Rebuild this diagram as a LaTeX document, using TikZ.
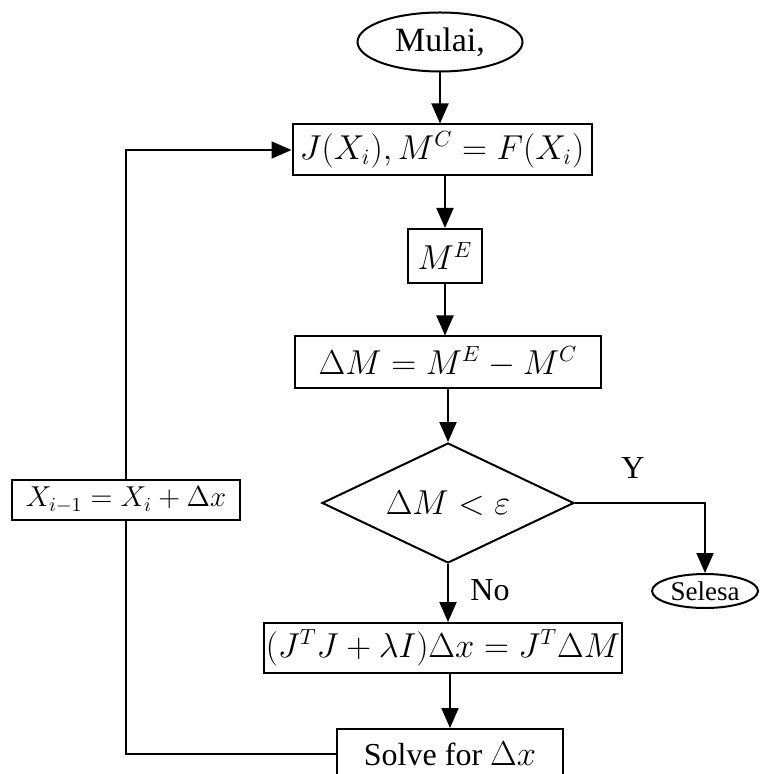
\documentclass[tikz,border=0pt]{standalone}
\usepackage{fontspec}
\setmainfont{Liberation Serif}
\usetikzlibrary{shapes.geometric,arrows.meta}
\tikzset{
  proc/.style={draw,line width=1pt,inner sep=0pt,minimum height=25.5pt},
  term/.style={draw,ellipse,line width=1pt,inner sep=0pt},
  decision/.style={draw,diamond,aspect=2.1,line width=1pt,inner sep=0pt,minimum width=126pt,minimum height=60pt},
  arr/.style={line width=1pt,-{Triangle[width=8.5pt,length=10pt]}},
  link/.style={line width=1pt}
}

\begin{document}
\begin{tikzpicture}[x=0.5pt,y=-0.5pt,font=\fontsize{16}{19}\selectfont]
\useasboundingbox (0,0) rectangle (769,774);

\node (mulai) at (440,42) [term,minimum width=82.5pt,minimum height=29.5pt] {\fontsize{17}{20}\selectfont Mulai,};
\node (jac) at (442,150) [proc,minimum width=149.5pt] {$J(X_i), M^C = F(X_i)$};
\draw[arr] (mulai.south) -- (mulai.south |- jac.north);

\node (me) at (445,256) [proc,minimum width=37pt,minimum height=27pt] {$M^E$};
\draw[arr] (me.north |- jac.south) -- (me.north);

\node (dm) at (448,362) [proc,minimum width=153pt] {$\Delta M = M^E - M^C$};
\draw[arr] (me.south) -- (me.south |- dm.north);

\node (cond) at (448,503) [decision] {$\Delta M < \varepsilon$};
\draw[arr] (dm.south) -- (cond.north);

\node (selesa) at (705,591) [term,minimum width=53pt,minimum height=17pt] {\fontsize{13.5}{16}\selectfont Selesa};
\node (yes) at (633,468) {Y};
\draw[arr] (cond.east) -| (selesa.north);

\node (eq) at (443,648) [proc,minimum width=179pt,minimum height=25pt] {$(J^TJ + \lambda I)\Delta x = J^T\Delta M$};
\node (no) at (490,590) {No};
\draw[arr] (cond.south) -- (cond.south |- eq.north);

\node (solve) at (450,754) [proc,minimum width=113pt,minimum height=25pt] {Solve for $\Delta x$};
\draw[arr] (solve.north |- eq.south) -- (solve.north);

\node (upd) at (126,500) [proc,minimum width=114pt,minimum height=20pt] {\fontsize{14.5}{17}\selectfont $X_{i-1} = X_i + \Delta x$};
\draw[link] (solve.west) -| (upd.south);
\draw[arr] (upd.north) |- (jac.west);
\end{tikzpicture}
\end{document}
